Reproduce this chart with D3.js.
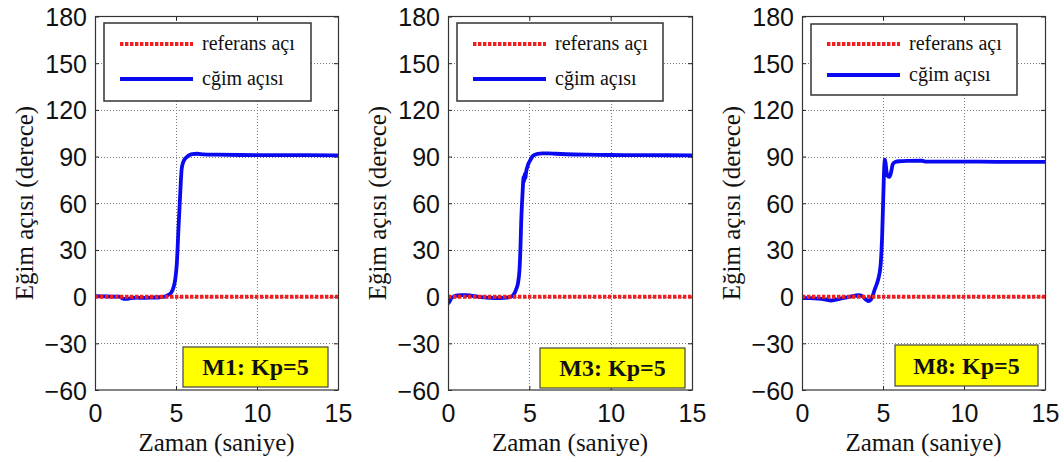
<!DOCTYPE html>
<html>
<head>
<meta charset="utf-8">
<script src="https://cdn.jsdelivr.net/npm/d3@7"></script>
<style>
  html, body { margin: 0; padding: 0; background: #fff; }
  svg { display: block; }
</style>
</head>
<body>
<svg id="chart" width="1064" height="462"></svg>
<script>
// ---------------- DATA ----------------
const timeTicks = [0, 5, 10, 15];
const angleTicks = [-60, -30, 0, 30, 60, 90, 120, 150, 180];
const panelLabels = ["M1: Kp=5", "M3: Kp=5", "M8: Kp=5"];
const legendLabels = ["referans açı", "cğim açısı"];
const xAxisTitle = "Zaman (saniye)";
const yAxisTitle = "Eğim açısı (derece)";

const refTime = [0, 15];
const refAngle = [0, 0];

const m1Time  = [0, 0.5, 1.0, 1.5, 1.7, 1.9, 2.2, 2.6, 3.0, 3.5, 4.0, 4.3, 4.5, 4.7, 4.85, 4.95, 5.05, 5.15, 5.25, 5.35, 5.45, 5.55, 5.7, 5.85, 6.0, 6.3, 6.7, 7.5, 9, 11, 13, 15];
const m1Angle = [0.3, 0.2, 0, 0, -1.2, -1.5, -1, -0.7, -0.8, -0.6, -0.4, 0, 1, 2.5, 6, 11, 21, 43, 64, 82, 86.5, 88.5, 90, 91, 91.6, 91.8, 91.4, 91.2, 91, 90.9, 90.9, 90.8];

const m3Time  = [0, 0.1, 0.2, 0.35, 0.5, 0.8, 1.1, 1.4, 1.8, 2.2, 2.6, 3.0, 3.4, 3.7, 3.9, 4.05, 4.2, 4.3, 4.4, 4.45, 4.5, 4.55, 4.6, 4.65, 4.68, 4.72, 4.76, 4.8, 4.87, 4.95, 5.05, 5.15, 5.3, 5.5, 5.8, 6.2, 6.6, 7.3, 8.5, 10, 12, 15];
const m3Angle = [-4.5, -3, -1, 0, 0.7, 0.9, 1, 0.7, 0, -0.5, -0.8, -1, -0.8, -0.5, 0, 1.5, 5, 8.5, 18, 30, 48, 60, 70, 77, 74, 79, 76, 80, 83, 85.5, 87.5, 89.5, 91, 91.8, 92.1, 92, 91.8, 91.5, 91.2, 91, 90.9, 90.8];

const m8Time  = [0, 0.5, 1.0, 1.4, 1.8, 2.1, 2.5, 3.0, 3.3, 3.5, 3.7, 3.9, 4.1, 4.3, 4.5, 4.7, 4.85, 4.95, 5.02, 5.08, 5.12, 5.17, 5.22, 5.3, 5.4, 5.5, 5.6, 5.75, 6.0, 6.5, 7.4, 7.6, 9, 11, 13, 15];
const m8Angle = [-1, -1, -1.3, -1.8, -2.5, -2, -1, 0, 0.7, 1, 0.5, -1.5, -2.8, -1, 5, 11, 20, 40, 65, 84, 88, 85, 80, 77.5, 77, 80, 85, 86.5, 87, 87.2, 87.3, 86.8, 86.7, 86.7, 86.6, 86.6];

const seriesTime  = [m1Time, m3Time, m8Time];
const seriesAngle = [m1Angle, m3Angle, m8Angle];

// ---------------- LAYOUT ----------------
const layout = [
  { x0: 95,  x1: 338,  leg: { x: 104, y: 23, w: 207, h: 78, r1: 44, r2: 79 }, note: { x: 183, y: 347, w: 145, h: 40 } },
  { x0: 448, x1: 692,  leg: { x: 457, y: 23, w: 206, h: 78, r1: 44, r2: 79 }, note: { x: 540, y: 348, w: 145, h: 40 } },
  { x0: 802, x1: 1045, leg: { x: 811, y: 24, w: 206, h: 71, r1: 44, r2: 75 }, note: { x: 895, y: 345, w: 143, h: 41 } }
];
const yTop = 16.5, yBot = 390;
const sans = "'Liberation Sans', Arial, sans-serif";
const serif = "'Liberation Serif', 'Times New Roman', serif";
const blue = "#0a0af0";
const red = "#f01e1e";

const svg = d3.select("#chart");

layout.forEach((L, i) => {
  const x = d3.scaleLinear().domain([timeTicks[0], timeTicks[timeTicks.length - 1]]).range([L.x0, L.x1]);
  const y = d3.scaleLinear().domain([angleTicks[0], angleTicks[angleTicks.length - 1]]).range([yBot, yTop]);
  const g = svg.append("g");

  // white plot bg
  g.append("rect").attr("x", L.x0).attr("y", yTop).attr("width", L.x1 - L.x0).attr("height", yBot - yTop).attr("fill", "#fff");

  // grid
  const gridStyle = s => s.attr("stroke", "#777").attr("stroke-width", 1).attr("stroke-dasharray", "1,2").attr("shape-rendering", "crispEdges");
  g.append("g").selectAll("line").data(timeTicks.slice(1, -1)).join("line")
    .attr("x1", d => Math.round(x(d)) + 0.5).attr("x2", d => Math.round(x(d)) + 0.5)
    .attr("y1", yTop).attr("y2", yBot).call(gridStyle);
  g.append("g").selectAll("line").data(angleTicks.slice(1, -1)).join("line")
    .attr("y1", d => Math.round(y(d)) + 0.5).attr("y2", d => Math.round(y(d)) + 0.5)
    .attr("x1", L.x0).attr("x2", L.x1).call(gridStyle);

  // axes (ticks inside) via d3 axes
  const tickLen = 4;
  const axB = g.append("g").attr("transform", `translate(0,${yBot})`)
    .call(d3.axisBottom(x).tickValues(timeTicks).tickSize(-tickLen).tickPadding(14).tickFormat(d3.format("d")));
  const axL = g.append("g").attr("transform", `translate(${L.x0},0)`)
    .call(d3.axisLeft(y).tickValues(angleTicks).tickSize(-tickLen).tickPadding(8).tickFormat(d3.format("d")));
  const axT = g.append("g").attr("transform", `translate(0,${yTop})`)
    .call(d3.axisTop(x).tickValues(timeTicks).tickSize(-tickLen).tickFormat(""));
  const axR = g.append("g").attr("transform", `translate(${L.x1},0)`)
    .call(d3.axisRight(y).tickValues(angleTicks).tickSize(-tickLen).tickFormat(""));
  [axB, axL, axT, axR].forEach(a => {
    a.select(".domain").remove();
    a.selectAll(".tick line").attr("stroke", "#222").attr("stroke-width", 1);
    a.selectAll("text").attr("font-family", sans).attr("font-size", 25).attr("fill", "#111");
  });
  axL.selectAll("text").attr("dy", "0.36em");
  axB.selectAll("text").attr("dy", "0.72em");

  // data lines
  const line = d3.line().x(d => x(d[0])).y(d => y(d[1])).curve(d3.curveMonotoneX);
  const refData = d3.zip(refTime, refAngle);
  const cData = d3.zip(seriesTime[i], seriesAngle[i]);
  const clipId = "clip" + i;
  g.append("clipPath").attr("id", clipId).append("rect")
    .attr("x", L.x0).attr("y", yTop).attr("width", L.x1 - L.x0).attr("height", yBot - yTop);
  const plot = g.append("g").attr("clip-path", `url(#${clipId})`);
  plot.append("path").datum(cData).attr("d", line).attr("fill", "none")
    .attr("stroke", blue).attr("stroke-width", 3.8).attr("stroke-linejoin", "round");
  plot.append("path").datum(refData).attr("d", line).attr("fill", "none")
    .attr("stroke", red).attr("stroke-width", 4).attr("stroke-dasharray", "3.4,1.6");

  // frame
  g.append("rect").attr("x", L.x0 + 0.5).attr("y", yTop).attr("width", L.x1 - L.x0).attr("height", yBot - yTop)
    .attr("fill", "none").attr("stroke", "#333").attr("stroke-width", 1.2);

  // legend
  const lg = L.leg;
  g.append("rect").attr("x", lg.x).attr("y", lg.y).attr("width", lg.w).attr("height", lg.h)
    .attr("fill", "#fff").attr("stroke", "#333").attr("stroke-width", 1.5);
  g.append("line").attr("x1", lg.x + 16).attr("x2", lg.x + 89).attr("y1", lg.r1).attr("y2", lg.r1)
    .attr("stroke", red).attr("stroke-width", 4).attr("stroke-dasharray", "3.4,1.6");
  g.append("line").attr("x1", lg.x + 16).attr("x2", lg.x + 89).attr("y1", lg.r2).attr("y2", lg.r2)
    .attr("stroke", blue).attr("stroke-width", 3.8);
  g.append("text").attr("x", lg.x + 98).attr("y", lg.r1).attr("dy", "0.3em")
    .attr("font-family", serif).attr("font-size", 20).attr("fill", "#111").text(legendLabels[0]);
  g.append("text").attr("x", lg.x + 98).attr("y", lg.r2).attr("dy", "0.3em")
    .attr("font-family", serif).attr("font-size", 20).attr("fill", "#111").text(legendLabels[1]);

  // annotation
  const n = L.note;
  g.append("rect").attr("x", n.x).attr("y", n.y).attr("width", n.w).attr("height", n.h)
    .attr("fill", "#ffff00").attr("stroke", "#444").attr("stroke-width", 1.2);
  g.append("text").attr("x", n.x + n.w / 2).attr("y", n.y + n.h / 2).attr("dy", "0.35em")
    .attr("text-anchor", "middle").attr("font-family", serif).attr("font-weight", "bold")
    .attr("font-size", 24).attr("fill", "#111").text(panelLabels[i]);

  // axis titles
  g.append("text").attr("x", (L.x0 + L.x1) / 2).attr("y", 451).attr("text-anchor", "middle")
    .attr("font-family", serif).attr("font-size", 25).attr("fill", "#111").text(xAxisTitle);
  g.append("text").attr("transform", `translate(${L.x0 - 62},203) rotate(-90)`).attr("text-anchor", "middle")
    .attr("font-family", serif).attr("font-size", 25).attr("fill", "#111").text(yAxisTitle);
});
</script>
</body>
</html>
